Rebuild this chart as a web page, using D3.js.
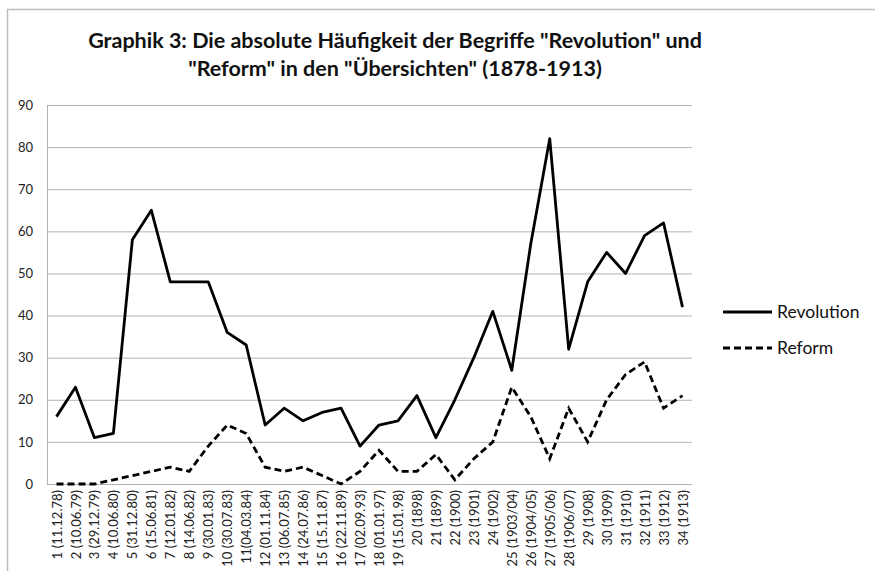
<!DOCTYPE html>
<html>
<head>
<meta charset="utf-8">
<script src="https://cdn.jsdelivr.net/npm/d3@7"></script>
<style>
  body { margin: 0; background: #fff; }
  svg { display: block; font-family: Lato, "Open Sans", sans-serif; }
</style>
</head>
<body>
<div id="chart"></div>
<script>
const categories = [
  "1 (11.12.78)", "2 (10.06.79)", "3 (29.12.79)", "4 (10.06.80)", "5 (31.12.80)",
  "6 (15.06.81)", "7 (12.01.82)", "8 (14.06.82)", "9 (30.01.83)", "10 (30.07.83)",
  "11(04.03.84)", "12 (01.11.84)", "13 (06.07.85)", "14 (24.07.86)", "15 (15.11.87)",
  "16 (22.11.89)", "17 (02.09.93)", "18 (01.01.97)", "19 (15.01.98)", "20 (1898)",
  "21 (1899)", "22 (1900)", "23 (1901)", "24 (1902)", "25 (1903/04)", "26 (1904/05)",
  "27 (1905/06)", "28 (1906/07)", "29 (1908)", "30 (1909)", "31 (1910)", "32 (1911)",
  "33 (1912)", "34 (1913)"
];
const revolution = [16, 23, 11, 12, 58, 65, 48, 48, 48, 36, 33, 14, 18, 15, 17, 18, 9, 14, 15, 21,
  11, 20, 30, 41, 27, 57, 82, 32, 48, 55, 50, 59, 62, 42];
const reform = [0, 0, 0, 1, 2, 3, 4, 3, 9, 14, 12, 4, 3, 4, 2, 0, 3, 8, 3, 3,
  7, 1, 6, 10, 23, 16, 6, 18, 10, 20, 26, 29, 18, 21];
const yTicks = [0, 10, 20, 30, 40, 50, 60, 70, 80, 90];
const titleLines = ['Graphik 3: Die absolute Häufigkeit der Begriffe "Revolution" und',
  '"Reform" in den "Übersichten" (1878-1913)'];

const width = 875, height = 571;
const plot = { left: 47, right: 692, top: 105, bottom: 484 };

const svg = d3.select("#chart").append("svg")
  .attr("width", width)
  .attr("height", height);

// Rahmen (nur links und oben sichtbar)
svg.append("path")
  .attr("d", `M7.5,${height} L7.5,9.5 L${width},9.5`)
  .attr("fill", "none")
  .attr("stroke", "#bdbdbd")
  .attr("stroke-width", 1.5);

const x = d3.scalePoint()
  .domain(categories)
  .range([plot.left, plot.right])
  .padding(0.5);

const y = d3.scaleLinear()
  .domain([0, 90])
  .range([plot.bottom, plot.top]);

// Gitterlinien
svg.append("g")
  .selectAll("line")
  .data(yTicks)
  .join("line")
  .attr("x1", plot.left)
  .attr("x2", plot.right)
  .attr("y1", d => y(d) + 0.5)
  .attr("y2", d => y(d) + 0.5)
  .attr("stroke", "#b3b3b3")
  .attr("stroke-width", 1);

svg.append("line")
  .attr("x1", plot.left + 0.5).attr("x2", plot.left + 0.5)
  .attr("y1", plot.top).attr("y2", plot.bottom)
  .attr("stroke", "#b3b3b3");

// Y-Achse
const yAxis = svg.append("g")
  .attr("transform", `translate(${plot.left},0)`)
  .call(d3.axisLeft(y).tickValues(yTicks).tickSize(0).tickPadding(14));
yAxis.select(".domain").remove();
yAxis.selectAll("text").attr("font-size", 13).attr("fill", "#222")
  .attr("font-family", "Lato, sans-serif");

// X-Achse
const xAxis = svg.append("g")
  .attr("transform", `translate(0,${plot.bottom})`)
  .call(d3.axisBottom(x).tickSize(0));
xAxis.select(".domain").remove();
xAxis.selectAll("text")
  .attr("font-size", 13)
  .attr("fill", "#222")
  .attr("font-family", "Lato, sans-serif")
  .attr("text-anchor", "end")
  .attr("dy", "0.35em")
  .attr("transform", "translate(0,6) rotate(-90)")
  .attr("x", 0)
  .attr("y", 0);

// Linien
const line = d3.line()
  .x((d, i) => x(categories[i]))
  .y(d => y(d));

svg.append("path")
  .datum(revolution)
  .attr("fill", "none")
  .attr("stroke", "#000")
  .attr("stroke-width", 2.8)
  .attr("stroke-linejoin", "round")
  .attr("d", line);

svg.append("path")
  .datum(reform)
  .attr("fill", "none")
  .attr("stroke", "#000")
  .attr("stroke-width", 2.8)
  .attr("stroke-dasharray", "7,4")
  .attr("d", line);

// Titel
svg.append("g")
  .selectAll("text")
  .data(titleLines)
  .join("text")
  .attr("x", 395)
  .attr("y", (d, i) => 48 + i * 28)
  .attr("text-anchor", "middle")
  .attr("font-size", 21.5)
  .attr("font-weight", "bold")
  .attr("fill", "#111")
  .text(d => d);

// Legende
const legend = svg.append("g");
const legendItems = [
  { name: "Revolution", dash: null, y: 312 },
  { name: "Reform", dash: "7,4", y: 348 }
];
legendItems.forEach(it => {
  legend.append("line")
    .attr("x1", 723).attr("x2", 772)
    .attr("y1", it.y).attr("y2", it.y)
    .attr("stroke", "#000")
    .attr("stroke-width", 2.8)
    .attr("stroke-dasharray", it.dash);
  legend.append("text")
    .attr("x", 777)
    .attr("y", it.y)
    .attr("dy", "0.35em")
    .attr("font-size", 17.5)
    .attr("fill", "#111")
    .text(it.name);
});
</script>
</body>
</html>
